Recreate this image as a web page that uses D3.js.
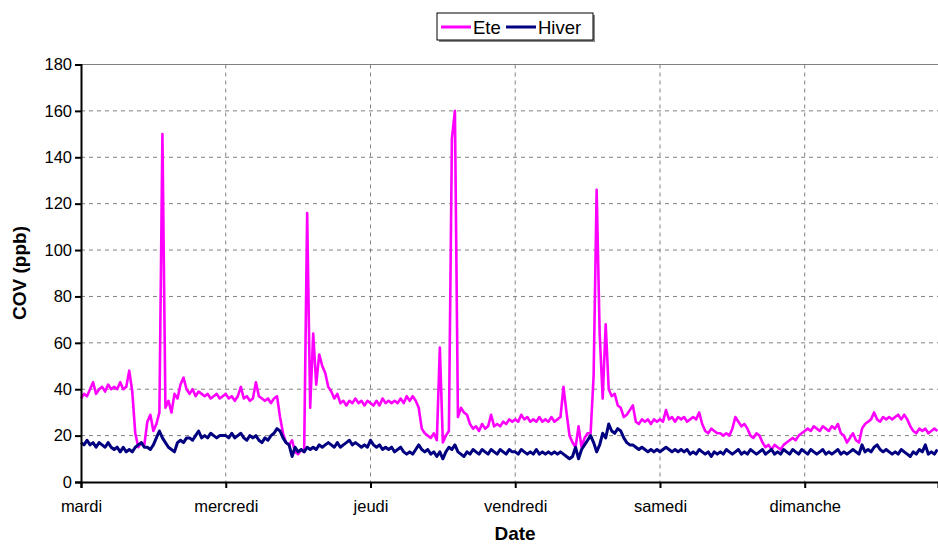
<!DOCTYPE html>
<html>
<head>
<meta charset="utf-8">
<script src="https://cdn.jsdelivr.net/npm/d3@7"></script>
<style>
  body { margin: 0; background: #fff; }
  svg { font-family: "Liberation Sans", Arial, sans-serif; }
</style>
</head>
<body>
<svg id="chart" width="938" height="544"></svg>
<script>
// half-hourly values, one row per day (mardi .. dimanche)
var ete = [].concat(
  [36,38,37,40,43,38,40,41,39,42,40,41,40,43,40,41,48,39,21,15,17,16,26,29,22,25,30,150,32,35,30,38,36,42,45,40,38,40,37,39,38,37,38,36,37,38,36,37],
  [38,36,37,35,37,41,36,37,35,36,43,37,36,35,36,34,36,37,28,21,17,16,18,13,12,14,13,116,32,64,42,55,50,47,41,39,36,38,34,35,33,35,34,36,34,35,33,35],
  [34,33,35,33,36,34,35,34,35,34,36,34,37,35,37,35,32,23,21,20,19,21,18,58,17,20,22,148,160,28,32,30,29,25,23,24,22,25,23,24,29,24,25,24,26,25,27,26],
  [27,26,29,27,28,26,27,26,28,26,27,26,28,26,27,28,41,30,20,17,15,24,15,19,21,21,46,126,64,36,68,40,37,38,33,32,28,29,31,33,26,25,27,26,27,25,27,26],
  [27,26,31,27,28,26,28,27,28,26,27,28,27,30,25,22,21,23,22,21,21,20,21,20,23,28,26,24,25,23,20,19,21,20,17,15,16,14,16,15,14,16,17,18,19,18,20,21],
  [22,23,22,24,23,22,24,23,22,24,23,25,21,20,17,19,21,18,17,23,25,26,27,30,27,26,28,27,28,27,28,29,27,29,27,24,22,21,23,22,23,21,22,23,22]
);
var hiver = [].concat(
  [17,16,18,16,17,15,17,16,15,17,15,14,15,13,15,13,14,13,15,16,17,15,15,14,16,19,22,19,17,15,14,13,17,18,17,19,19,18,20,22,19,20,19,21,20,19,20,20],
  [20,19,21,19,20,21,19,18,20,19,20,18,17,19,18,20,21,23,22,19,17,16,11,15,13,14,13,15,14,15,14,16,15,16,17,16,15,17,15,16,17,18,16,17,16,15,16,15],
  [18,16,15,16,14,15,14,15,13,14,15,13,12,13,12,14,16,14,13,14,12,13,11,13,10,13,15,14,16,13,12,11,13,12,14,13,12,14,13,12,14,13,12,14,13,12,14,13],
  [13,12,14,13,12,13,12,14,12,13,12,13,12,13,12,13,12,11,10,11,15,10,14,16,18,20,17,13,16,21,19,25,22,21,23,22,19,17,16,16,15,14,15,14,13,14,13,14],
  [13,14,15,14,13,14,13,14,13,14,12,13,12,14,13,12,13,11,13,12,13,12,14,13,12,13,14,12,13,12,14,13,12,13,14,12,13,14,12,13,12,14,13,12,14,13,12,14],
  [13,12,14,13,12,13,14,12,13,12,13,14,12,13,12,13,14,13,12,16,13,14,13,15,16,14,13,14,13,12,13,12,14,13,12,11,13,12,14,13,16,12,13,12,14]
);
var dayLabels = ['mardi', 'mercredi', 'jeudi', 'vendredi', 'samedi', 'dimanche'];
var yTicks = [0, 20, 40, 60, 80, 100, 120, 140, 160, 180];
var stepHours = 0.5;

function drawChart() {
  var svg = d3.select('#chart');
  var plotLeft = 81, plotRight = 938, plotTop = 64.5, plotBottom = 482;

  var x = d3.scaleLinear().domain([0, 142.1]).range([plotLeft, plotRight]);
  var y = d3.scaleLinear().domain([0, 180]).range([plotBottom, plotTop]);

  // grid
  svg.append('g').selectAll('line').data(yTicks.slice(1, -1)).enter().append('line')
    .attr('x1', plotLeft).attr('x2', plotRight)
    .attr('y1', function(d) { return y(d); }).attr('y2', function(d) { return y(d); })
    .attr('stroke', '#808080').attr('stroke-width', 1).attr('stroke-dasharray', '4,4');
  svg.append('g').selectAll('line').data(dayLabels.slice(1)).enter().append('line')
    .attr('x1', function(d, i) { return x((i + 1) * 24); }).attr('x2', function(d, i) { return x((i + 1) * 24); })
    .attr('y1', plotTop).attr('y2', plotBottom)
    .attr('stroke', '#808080').attr('stroke-width', 1).attr('stroke-dasharray', '4,4');
  svg.append('line').attr('x1', plotLeft).attr('x2', plotRight).attr('y1', y(180)).attr('y2', y(180))
    .attr('stroke', '#808080').attr('stroke-width', 1);

  // series
  var line = d3.line()
    .x(function(d, i) { return x(i * stepHours); })
    .y(function(d) { return y(d); });
  svg.append('path').datum(ete).attr('d', line)
    .attr('fill', 'none').attr('stroke', '#ff00ff').attr('stroke-width', 2.6).attr('stroke-linejoin', 'round');
  svg.append('path').datum(hiver).attr('d', line)
    .attr('fill', 'none').attr('stroke', '#000080').attr('stroke-width', 3).attr('stroke-linejoin', 'round');

  // axes
  var yAxis = d3.axisLeft(y).tickValues(yTicks).tickSize(6).tickPadding(3);
  var gy = svg.append('g').attr('transform', 'translate(' + plotLeft + ',0)').call(yAxis);
  var xAxis = d3.axisBottom(x).tickValues(d3.range(dayLabels.length).map(function(i) { return i * 24; }))
    .tickFormat(function(d) { return dayLabels[d / 24]; }).tickSize(6).tickPadding(12);
  var gx = svg.append('g').attr('transform', 'translate(0,' + plotBottom + ')').call(xAxis);
  [gx, gy].forEach(function(g) {
    g.select('.domain').attr('stroke', '#000').attr('stroke-width', 2);
    g.selectAll('.tick line').attr('stroke', '#000').attr('stroke-width', 2);
    g.selectAll('.tick text').attr('fill', '#000').style('font-size', '16.5px');
  });

  // titles
  svg.append('text').attr('transform', 'translate(26,273) rotate(-90)')
    .attr('text-anchor', 'middle').style('font-size', '19px').style('font-weight', 'bold').text('COV (ppb)');
  svg.append('text').attr('x', 515).attr('y', 540)
    .attr('text-anchor', 'middle').style('font-size', '19px').style('font-weight', 'bold').text('Date');

  // legend
  var lg = svg.append('g').attr('transform', 'translate(437,13)');
  lg.append('rect').attr('x', 2).attr('y', 2).attr('width', 156).attr('height', 27).attr('fill', '#888');
  lg.append('rect').attr('width', 156).attr('height', 27).attr('fill', '#fff').attr('stroke', '#000');
  var items = [{name: 'Ete', color: '#ff00ff', x0: 4}, {name: 'Hiver', color: '#000080', x0: 69}];
  items.forEach(function(it) {
    lg.append('line').attr('x1', it.x0).attr('x2', it.x0 + 30).attr('y1', 14).attr('y2', 14)
      .attr('stroke', it.color).attr('stroke-width', 3);
    lg.append('text').attr('x', it.x0 + 32).attr('y', 20.5).style('font-size', '18.5px').text(it.name);
  });
}

drawChart();
</script>
</body>
</html>
